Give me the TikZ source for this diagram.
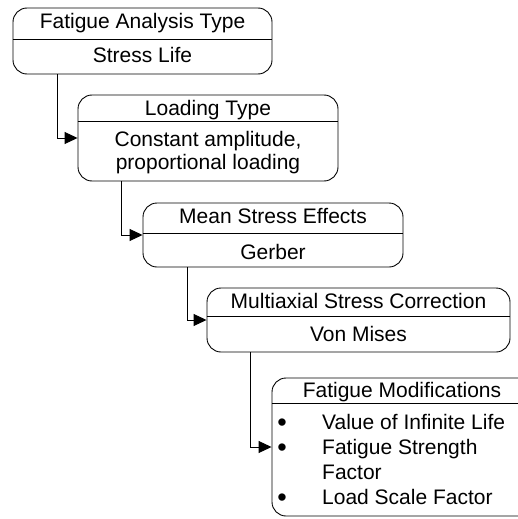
\documentclass[tikz,border=0pt]{standalone}
\usepackage{fontspec}
\setmainfont{Liberation Sans}
\usetikzlibrary{arrows.meta}
\usetikzlibrary{calc}

\begin{document}
\begin{tikzpicture}[x = 1pt, y = -1pt]
\tikzstyle{boxStyle} = [draw, line width = 0.9pt, rounded corners = 14pt, inner sep = 0pt]
\tikzstyle{headStyle} = [anchor = base, inner sep = 0pt, font = \fontsize{21}{24}\selectfont]
\tikzstyle{itemStyle} = [anchor = base west, inner sep = 0pt, font = \fontsize{21}{24}\selectfont]
\tikzstyle{dotStyle} = [anchor = base, inner sep = 0pt, font = \fontsize{27}{30}\selectfont]
\tikzstyle{lineStyle} = [line width = 0.9pt]
\tikzstyle{arrowStyle} = [line width = 0.9pt, -{Triangle[length = 13pt, width = 12pt]}]
\clip (0,0) rectangle (518,519);
% boxes
\node[boxStyle, minimum width = 259pt, minimum height = 66pt] (fat) at (142.5,41) {};
\node[boxStyle, minimum width = 260pt, minimum height = 86pt] (load) at (208,138) {};
\node[boxStyle, minimum width = 260pt, minimum height = 64pt] (mean) at (273,235) {};
\node[boxStyle, minimum width = 303pt, minimum height = 64pt] (multi) at (358.5,320) {};
\node[boxStyle, minimum width = 260pt, minimum height = 138pt] (mods) at (402,447) {};
\draw[lineStyle] (fat.west |- 0,39) -- (fat.east |- 0,39);
\draw[lineStyle] (load.west |- 0,121) -- (load.east |- 0,121);
\draw[lineStyle] (mean.west |- 0,233) -- (mean.east |- 0,233);
\draw[lineStyle] (multi.west |- 0,316) -- (multi.east |- 0,316);
\draw[lineStyle] (mods.west |- 0,403) -- (mods.east |- 0,403);
% texts
\node[headStyle] (fatHead) at (142.5,29) {Fatigue Analysis Type};
\node[headStyle] (fatVal) at (142.5,63) {Stress Life};
\node[headStyle] (loadHead) at (208,115) {Loading Type};
\node[headStyle] (loadVal) at (208,146) {Constant amplitude,};
\node[headStyle] (loadVal2) at (208,169) {proportional loading};
\node[headStyle] (meanHead) at (273,223) {Mean Stress Effects};
\node[headStyle] (meanVal) at (273,259) {Gerber};
\node[headStyle] (multiHead) at (358.5,308) {Multiaxial Stress Correction};
\node[headStyle] (multiVal) at (358.5,341) {Von Mises};
\node[headStyle] (modsHead) at (402,397) {Fatigue Modifications};
\node[dotStyle] (dotA) at (282,431) {\textbullet};
\node[itemStyle] (itemA) at (322,429) {Value of Infinite Life};
\node[dotStyle] (dotB) at (282,456) {\textbullet};
\node[itemStyle] (itemB) at (322,454) {Fatigue Strength};
\node[itemStyle] (itemB2) at (322,479) {Factor};
\node[dotStyle] (dotC) at (282,506) {\textbullet};
\node[itemStyle] (itemC) at (322,504) {Load Scale Factor};
% connectors
\draw[arrowStyle] ($(fat.south west)+(45,0)$) |- (load.west);
\draw[arrowStyle] ($(load.south west)+(44,0)$) |- (mean.west);
\draw[arrowStyle] ($(mean.south west)+(45,0)$) |- (multi.west);
\draw[arrowStyle] ($(multi.south west)+(44,0)$) |- (mods.west);
\end{tikzpicture}
\end{document}
